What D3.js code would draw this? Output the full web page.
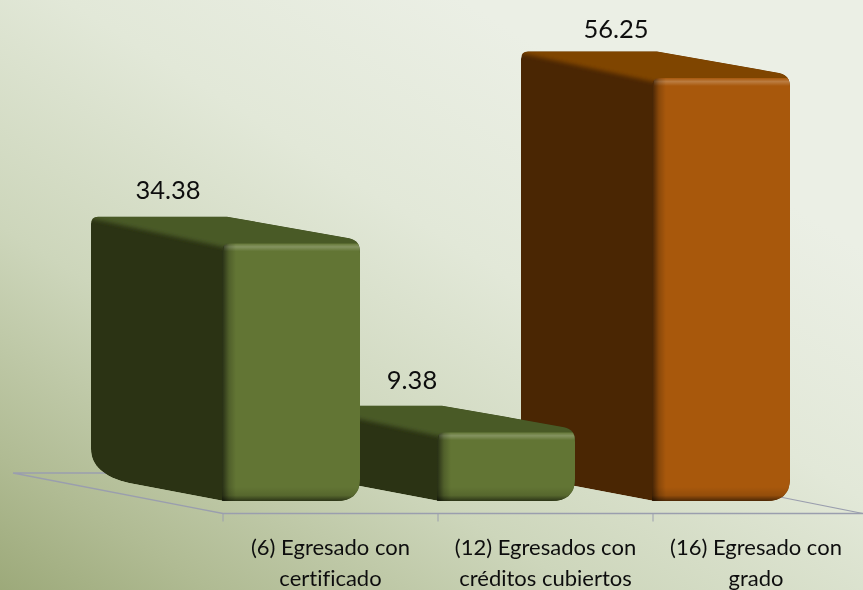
<!DOCTYPE html>
<html><head><meta charset="utf-8">
<style>html,body{margin:0;padding:0;background:#dfe5d3;overflow:hidden}svg{display:block}text{font-family:Lato,"Open Sans",sans-serif;fill:#111;font-variant-ligatures:none}</style>
<script src="https://cdn.jsdelivr.net/npm/d3@7/dist/d3.min.js"></script>
</head><body><svg id="c" width="863" height="590"></svg>
<script>
const categories = ["(6)", "(12)", "(16)"];
const labelLines = [["(6) Egresado con","certificado"],["(12) Egresados con","créditos cubiertos"],["(16) Egresado con","grado"]];
const values = [34.38, 9.38, 56.25];
const valueLabels = ["34.38","9.38","56.25"];
const frontColors = ["#627534","#627534","#a8580c"];
const sideColors = ["#2b3314","#2b3314","#4a2603"];
const topColors = ["#4a5a27","#4a5a27","#7f4506"];

const W=863,H=590;
const svg=d3.select("#c");
const defs=svg.append("defs");
const x=d3.scaleBand().domain(categories).range([223,868]);
const y=d3.scaleLinear().domain([0,56.25]).range([501,76]);
const barW=136, depthX=-133, depthY=-24.5;
const axisY=513.5, floorBackY=473;
const labelDx=[-56,-27,-38], labelDy=[-51.5,-50.5,-47];

const bg=defs.append("linearGradient").attr("id","bg").attr("gradientUnits","userSpaceOnUse")
 .attr("x1",0).attr("y1",600).attr("x2",400).attr("y2",-40);
[[0,"#9ba878"],[.16,"#b0bb93"],[.42,"#cdd6bb"],[.72,"#e2e8d8"],[1,"#ebefe5"]].forEach(s=>bg.append("stop").attr("offset",s[0]).attr("stop-color",s[1]));
svg.append("rect").attr("width",W).attr("height",H).attr("fill","url(#bg)");

function grad(id,x2,y2,stops){const g=defs.append("linearGradient").attr("id",id).attr("x1",0).attr("y1",0).attr("x2",x2).attr("y2",y2);
 stops.forEach(s=>g.append("stop").attr("offset",s[0]).attr("stop-color",s[1]).attr("stop-opacity",s[2]));}
grad("hi",0,1,[[0,"#fff",0],[.45,"#fff",.22],[1,"#fff",0]]);
grad("lo",0,1,[[0,"#000",0],[.6,"#000",.12],[1,"#000",.55]]);
grad("lf",1,0,[[0,"#000",.6],[.5,"#000",.18],[1,"#000",0]]);
defs.append("filter").attr("id","soft").attr("x","-10%").attr("y","-10%").attr("width","120%").attr("height","120%")
 .append("feGaussianBlur").attr("stdDeviation",2);
defs.append("filter").attr("id","tb").append("feGaussianBlur").attr("stdDeviation",0.35);

// floor and axis
const fl=svg.append("g").attr("stroke","#9a9eae").attr("fill","none");
const x0=x(categories[0]);
fl.append("path").attr("d",d3.line()([[W,axisY],[x0,axisY],[13,floorBackY],[110,floorBackY]])).attr("stroke-width",1.3);
fl.append("path").attr("d",d3.line()([[780,floorBackY+24],[W,axisY]])).attr("stroke-width",1.1);
categories.forEach(c=>fl.append("path").attr("d",d3.line()([[x(c),axisY],[x(c),axisY+8]])));

const bars=categories.map((c,i)=>({c,i,v:values[i]}));
// back to front: right bar first
bars.slice().reverse().forEach(d=>{
 const L=x(d.c)+1,R=L+barW,T=y(d.v),B=y(0),i=d.i;
 const bL=L+depthX,bT=T+depthY,bR=bL+barW;
 const sil=`M${bL},${bT+7}Q${bL},${bT} ${bL+7},${bT}L${bR},${bT}L${R-11},${T-3}Q${R},${T-1} ${R},${T+11}L${R},${B-22}Q${R},${B} ${R-24},${B}L${L},${B}L${bL+38},${B-18}C${bL+12},${B-24} ${bL},${B-36} ${bL},${B-52}Z`;
 const g=svg.append("g");
 const cid="sil"+i;
 defs.append("clipPath").attr("id",cid).append("path").attr("d",sil);
 const cf="fr"+i;
 const front=`M${L+6},${T+2}L${R},${T+2}L${R},${B}L${L-2},${B}L${L-2},${T+10}Q${L-2},${T+2} ${L+6},${T+2}Z`;
 defs.append("clipPath").attr("id",cf).append("path").attr("d",front);
 const cg=g.append("g").attr("clip-path",`url(#${cid})`);
 cg.append("path").attr("d",sil).attr("fill",sideColors[i]);
 cg.append("path").attr("d",`M${bL-8},${bT-8}L${bR+40},${bT-8}L${R+8},${T-8}L${R+8},${T+6}L${L},${T+6}L${bL-4},${bT+1}Z`)
  .attr("fill",topColors[i]).attr("filter","url(#soft)");
 const fg=cg.append("g").attr("clip-path",`url(#${cf})`);
 fg.append("rect").attr("x",L-2).attr("y",T+2).attr("width",barW+2).attr("height",B-T).attr("fill",frontColors[i]);
 fg.append("rect").attr("x",L).attr("y",T+2).attr("width",barW).attr("height",8).attr("fill","url(#hi)");
 fg.append("rect").attr("x",L-2).attr("y",B-14).attr("width",barW+2).attr("height",14).attr("fill","url(#lo)");
 fg.append("rect").attr("x",L-2).attr("y",T+2).attr("width",14).attr("height",B-T).attr("fill","url(#lf)");
 g.append("text").attr("x",L+labelDx[i]).attr("y",T+labelDy[i]).attr("dy",".35em").attr("text-anchor","middle")
  .attr("font-size",25.5).attr("filter","url(#tb)").text(valueLabels[i]);
});

// category labels
categories.forEach((c,i)=>{
 const cx=Math.min(x(c)+x.bandwidth()/2,756);
 labelLines[i].forEach((t,k)=>svg.append("text").attr("x",cx).attr("y",547+k*31).attr("dy",".35em")
  .attr("text-anchor","middle").attr("font-size",22).attr("filter","url(#tb)").text(t));
});
</script></body></html>
